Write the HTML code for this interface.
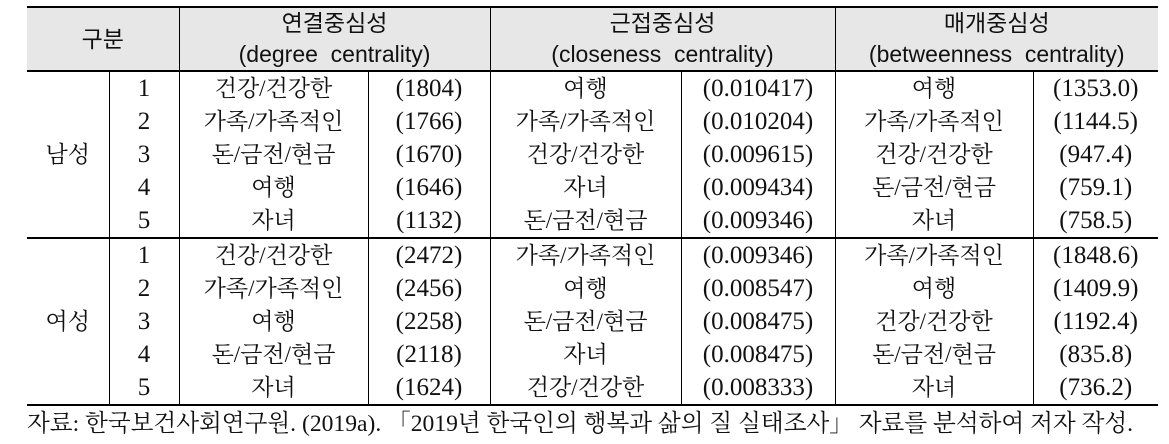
<!DOCTYPE html>
<html><head><meta charset="utf-8"><style>
body{margin:0;width:1169px;height:444px;background:#fff;position:relative;overflow:hidden}
table{position:absolute;left:27px;top:6px;border-collapse:collapse;table-layout:fixed;font-family:"Liberation Serif","Noto Serif CJK KR","Noto Serif CJK SC",serif;font-size:23px;color:#111}
td,th{padding:0;text-align:center;white-space:nowrap;line-height:24px}
td.n{font-size:25px}
th{background:#e7e7e7;font-family:"Liberation Sans","Noto Sans CJK KR",sans-serif;font-size:23px;font-weight:normal;height:62px;line-height:31px;border-left:1.5px solid #000;border-top:2px solid #000;border-bottom:2px solid #000}
th:first-child{border-left:none}
td{height:33px;border-left:1.5px solid #000}
td.g{border-left:none}
tr.sep td{border-top:2px solid #000}
tr.last td{border-bottom:2px solid #000}
.foot{position:absolute;left:27px;top:404px;font-family:"Liberation Serif","Noto Serif CJK KR","Noto Serif CJK SC",serif;font-size:23.6px;color:#111;white-space:nowrap}
</style></head><body>
<table>
<colgroup><col style="width:82px"><col style="width:70px"><col style="width:189px"><col style="width:122px"><col style="width:191px"><col style="width:154px"><col style="width:198px"><col style="width:125px"></colgroup>
<tr><th colspan="2">구분</th><th colspan="2">연결중심성<br>(degree&nbsp; centrality)</th><th colspan="2">근접중심성<br>(closeness&nbsp; centrality)</th><th colspan="2">매개중심성<br>(betweenness&nbsp; centrality)</th></tr>
<tr><td class="g" rowspan="5">남성</td><td class="n">1</td><td>건강/건강한</td><td class="n">(1804)</td><td>여행</td><td class="n">(0.010417)</td><td>여행</td><td class="n">(1353.0)</td></tr>
<tr><td class="n">2</td><td>가족/가족적인</td><td class="n">(1766)</td><td>가족/가족적인</td><td class="n">(0.010204)</td><td>가족/가족적인</td><td class="n">(1144.5)</td></tr>
<tr><td class="n">3</td><td>돈/금전/현금</td><td class="n">(1670)</td><td>건강/건강한</td><td class="n">(0.009615)</td><td>건강/건강한</td><td class="n">(947.4)</td></tr>
<tr><td class="n">4</td><td>여행</td><td class="n">(1646)</td><td>자녀</td><td class="n">(0.009434)</td><td>돈/금전/현금</td><td class="n">(759.1)</td></tr>
<tr><td class="n">5</td><td>자녀</td><td class="n">(1132)</td><td>돈/금전/현금</td><td class="n">(0.009346)</td><td>자녀</td><td class="n">(758.5)</td></tr>
<tr class="sep"><td class="g" rowspan="5" style="border-bottom:2px solid #000">여성</td><td class="n">1</td><td>건강/건강한</td><td class="n">(2472)</td><td>가족/가족적인</td><td class="n">(0.009346)</td><td>가족/가족적인</td><td class="n">(1848.6)</td></tr>
<tr><td class="n">2</td><td>가족/가족적인</td><td class="n">(2456)</td><td>여행</td><td class="n">(0.008547)</td><td>여행</td><td class="n">(1409.9)</td></tr>
<tr><td class="n">3</td><td>여행</td><td class="n">(2258)</td><td>돈/금전/현금</td><td class="n">(0.008475)</td><td>건강/건강한</td><td class="n">(1192.4)</td></tr>
<tr><td class="n">4</td><td>돈/금전/현금</td><td class="n">(2118)</td><td>자녀</td><td class="n">(0.008475)</td><td>돈/금전/현금</td><td class="n">(835.8)</td></tr>
<tr class="last"><td class="n">5</td><td>자녀</td><td class="n">(1624)</td><td>건강/건강한</td><td class="n">(0.008333)</td><td>자녀</td><td class="n">(736.2)</td></tr>
</table>
<div class="foot">자료: 한국보건사회연구원. (2019a). 「2019년 한국인의 행복과 삶의 질 실태조사」 자료를 분석하여 저자 작성.</div>
</body></html>
